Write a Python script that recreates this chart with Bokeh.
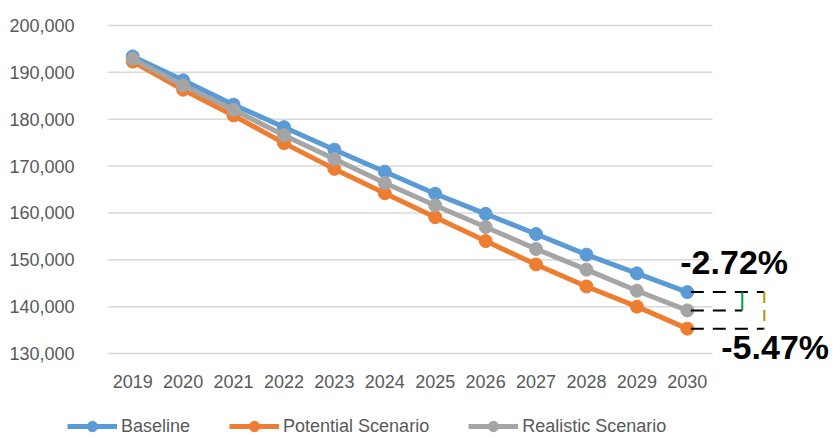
from bokeh.plotting import figure
from bokeh.models import Legend, LegendItem, FixedTicker, NumeralTickFormatter, Range1d
from bokeh.core.properties import value
from bokeh.embed import file_html
from bokeh.resources import INLINE

years = ["2019", "2020", "2021", "2022", "2023", "2024", "2025", "2026", "2027", "2028", "2029", "2030"]
baseline = [193400, 188300, 183100, 178300, 173500, 168800, 164100, 159800, 155500, 151100, 147100, 143100]
potential = [192300, 186300, 180800, 174900, 169400, 164200, 159100, 154000, 149000, 144300, 140000, 135300]
realistic = [192900, 187200, 182000, 176600, 171500, 166400, 161600, 157000, 152300, 147900, 143400, 139200]
y_ticks = [130000, 140000, 150000, 160000, 170000, 180000, 190000, 200000]
pct_realistic = "-2.72%"
pct_potential = "-5.47%"

BLUE = "#5B9BD5"
ORANGE = "#ED7D31"
GRAY = "#A5A5A5"
FONT = "Liberation Sans"

W, H = 834, 437
plot_left = 107          # screen x of the category area's left edge
grid_top, grid_bot = 25, 353   # screen y of 200k and 130k gridlines
axis_y = 365             # screen y of the x-axis line
cat_px = 605 / 12.0
px_per_unit = (grid_bot - grid_top) / (y_ticks[-1] - y_ticks[0])
ytop = y_ticks[-1] + grid_top / px_per_unit
ybot = ytop - H / px_per_unit
x0 = -0.5 - plot_left / cat_px
xs = list(range(len(years)))

p = figure(width=W, height=H, output_backend="svg", toolbar_location=None,
           x_range=Range1d(x0, x0 + W / cat_px), y_range=Range1d(ybot, ytop),
           min_border_left=0, min_border_right=0, min_border_top=0, min_border_bottom=0)
p.outline_line_color = None
p.xgrid.grid_line_color = None
p.ygrid.grid_line_color = None

# horizontal gridlines only across the category area
p.segment(x0=[-0.5] * len(y_ticks), x1=[len(years) - 0.5] * len(y_ticks), y0=y_ticks, y1=y_ticks,
          line_color="#D9D9D9", line_width=1.5)

for ax in (p.xaxis[0], p.yaxis[0]):
    ax.axis_line_color = None
    ax.major_tick_line_color = None
    ax.minor_tick_line_color = None
    ax.major_label_text_font = FONT
    ax.major_label_text_font_size = "18px"
    ax.major_label_text_color = "#595959"

p.xaxis.ticker = FixedTicker(ticks=xs)
p.xaxis.major_label_overrides = {i: y for i, y in enumerate(years)}
p.xaxis.major_label_standoff = 3
p.xaxis.fixed_location = y_ticks[-1] - (axis_y - grid_top) / px_per_unit
p.yaxis.ticker = FixedTicker(ticks=y_ticks)
p.yaxis.formatter = NumeralTickFormatter(format="0,0")
p.yaxis.major_label_standoff = 27
p.yaxis.fixed_location = -0.5

items = []
for name, vals, col in [("Baseline", baseline, BLUE), ("Potential Scenario", potential, ORANGE),
                        ("Realistic Scenario", realistic, GRAY)]:
    r1 = p.line(xs, vals, line_color=col, line_width=5)
    r2 = p.scatter(xs, vals, size=13, fill_color=col, line_color=col)
    items.append(LegendItem(label=name, renderers=[r1, r2]))

# dashed guide lines from 2030 values
last = len(years) - 1
x_start = last + 0.07
x_green = last + 55 / cat_px
x_brown = last + 77 / cat_px
p.segment(x0=[x_start, x_start, x_start], x1=[x_brown, x_green, x_brown],
          y0=[baseline[-1], realistic[-1], potential[-1]], y1=[baseline[-1], realistic[-1], potential[-1]],
          line_color="black", line_width=2, line_dash="13 9")
p.segment(x0=[x_green], x1=[x_green], y0=[baseline[-1]], y1=[realistic[-1]],
          line_color="#00A03C", line_width=2)
p.segment(x0=[x_brown], x1=[x_brown], y0=[baseline[-1]], y1=[potential[-1]],
          line_color="#BF8F00", line_width=2, line_dash="11 7")

p.text(x=[last - 7 / cat_px], y=[baseline[-1] + 30 / px_per_unit], text=[pct_realistic],
       text_font=value(FONT), text_font_style="bold", text_font_size="34px",
       text_baseline="middle", text_align="left", text_color="black")
p.text(x=[last + 34 / cat_px], y=[potential[-1] - 18 / px_per_unit], text=[pct_potential],
       text_font=value(FONT), text_font_style="bold", text_font_size="34px",
       text_baseline="middle", text_align="left", text_color="black")

legend = Legend(items=items, orientation="horizontal", location=(67, -2),
                glyph_width=50, glyph_height=26, label_standoff=4, spacing=39,
                padding=0, margin=0, border_line_alpha=0, background_fill_alpha=0,
                label_text_font=FONT, label_text_font_size="18px", label_text_color="#595959")
p.add_layout(legend, "center")

open("out.html", "w").write(file_html(p, INLINE))
